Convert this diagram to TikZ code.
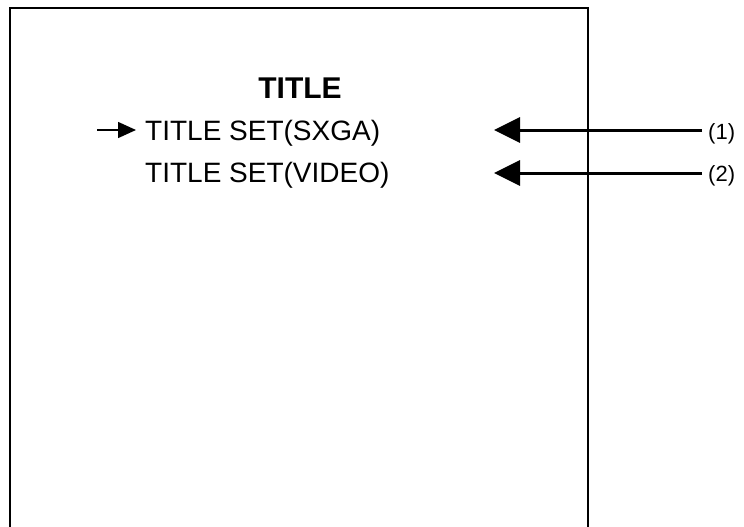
\documentclass[tikz,border=0pt]{standalone}
\usepackage{fontspec}
\setmainfont{Liberation Sans}
\usetikzlibrary{arrows.meta}
\begin{document}
\begin{tikzpicture}[x=1pt,y=-1pt,
  item/.style={anchor=base west,inner sep=0pt,font=\fontsize{28}{30}\selectfont},
  lbl/.style={anchor=base west,inner sep=0pt,font=\fontsize{22}{24}\selectfont},
  bigarrow/.style={line width=3pt,-{Triangle[length=26pt,width=25pt]}},
  smallarrow/.style={line width=1.5pt,-{Triangle[length=18pt,width=16pt]}}]
\useasboundingbox (0,0) rectangle (744,527);
\draw[line width=1.5pt] (10,540) -- (10,8) -- (588,8) -- (588,540);
\node[anchor=base,inner sep=0pt,font=\fontsize{30}{32}\selectfont\bfseries] (title) at (300,98) {TITLE};
\node[item] (i1) at (145,140) {TITLE SET(SXGA)};
\node[item] (i2) at (145,182) {TITLE SET(VIDEO)};
\node[lbl] (l1) at (708,139) {(1)};
\node[lbl] (l2) at (708,181) {(2)};
\coordinate (sa) at (97,130);
\coordinate (sb) at (136,130);
\coordinate (e1) at (702,130);
\coordinate (t1) at (494,130);
\coordinate (e2) at (702,173);
\coordinate (t2) at (494,173);
\draw[smallarrow] (sa) -- (sb);
\draw[bigarrow] (e1) -- (t1);
\draw[bigarrow] (e2) -- (t2);
\end{tikzpicture}
\end{document}
